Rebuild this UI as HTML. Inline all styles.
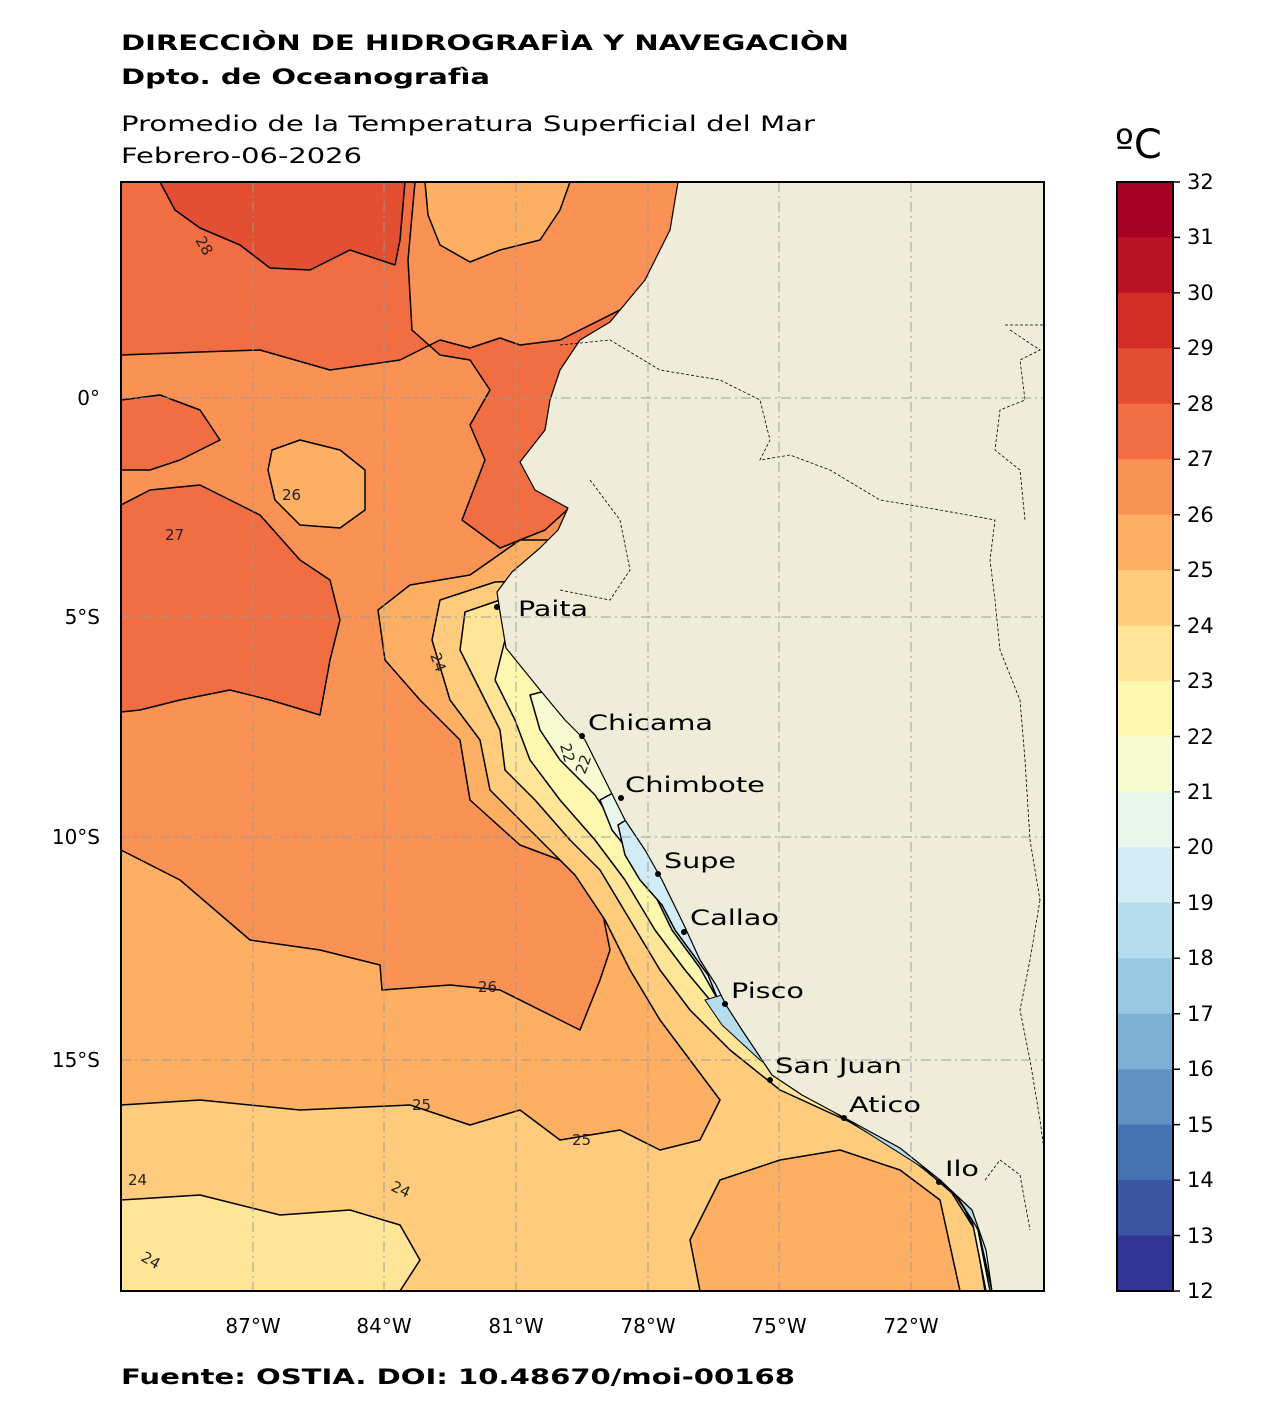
<!DOCTYPE html>
<html><head><meta charset="utf-8"><style>
body{margin:0;background:#fff;}
svg{display:block;font-family:"DejaVu Sans","Liberation Sans",sans-serif;}
</style></head><body>
<svg width="1268" height="1420" viewBox="0 0 1268 1420" xmlns="http://www.w3.org/2000/svg">
<rect width="1268" height="1420" fill="#fff"/>
<text x="121" y="50" font-size="21" font-weight="bold" textLength="728" lengthAdjust="spacingAndGlyphs">DIRECCIÒN DE HIDROGRAFÌA Y NAVEGACIÒN</text>
<text x="121" y="84" font-size="21" font-weight="bold" textLength="369" lengthAdjust="spacingAndGlyphs">Dpto. de Oceanografìa</text>
<text x="121" y="131" font-size="21" textLength="694" lengthAdjust="spacingAndGlyphs">Promedio de la Temperatura Superficial del Mar</text>
<text x="121" y="163" font-size="21" textLength="241" lengthAdjust="spacingAndGlyphs">Febrero-06-2026</text>
<text x="1115" y="158" font-size="40">ºC</text>
<text x="121" y="1384" font-size="21" font-weight="bold" textLength="674" lengthAdjust="spacingAndGlyphs">Fuente: OSTIA. DOI: 10.48670/moi-00168</text>

<defs><clipPath id="m"><rect x="121" y="182" width="923" height="1109"/></clipPath></defs>
<g clip-path="url(#m)" stroke="#000" stroke-width="1.5" stroke-linejoin="round">
<rect x="121" y="182" width="923" height="1109" fill="#f99254" stroke="none"/>
<path fill="#f16e43" d="M121,182 L415,182 L408,260 L412,330 L440,355 L470,360 L490,390 L470,425 L485,460 L462,520 L500,548 L545,530 L600,480 L640,300 L560,340 L520,345 L500,338 L470,348 L440,340 L400,360 L330,370 L260,350 L200,352 L121,355 Z"/>
<path fill="#f16e43" d="M121,505 L150,490 L200,485 L230,500 L260,515 L300,560 L330,580 L340,620 L330,660 L320,715 L270,700 L230,690 L180,700 L140,710 L121,712 Z"/>
<path fill="#f16e43" d="M121,400 L160,395 L200,410 L220,440 L180,460 L150,470 L121,470 Z"/>
<path fill="#e34f33" d="M160,182 L405,182 L400,240 L395,265 L350,250 L310,270 L270,268 L240,245 L200,228 L175,210 Z"/>
<path fill="#fdb063" d="M425,182 L570,182 L560,210 L540,240 L500,250 L470,262 L440,245 L428,215 Z"/>
<path fill="#fdb063" d="M272,450 L300,440 L340,450 L365,470 L365,510 L340,528 L300,525 L275,500 L268,470 Z"/>
<path fill="#fdb063" d="M121,850 L180,880 L250,940 L320,950 L380,965 L382,990 L450,985 L500,990 L560,1020 L580,1030 L600,980 L610,950 L600,900 L560,860 L520,845 L470,800 L460,740 L420,700 L385,660 L378,610 L410,585 L470,575 L520,540 L1044,540 L1044,1291 L121,1291 Z"/>
<path fill="#fecc7c" d="M121,1105 L200,1100 L300,1110 L410,1105 L470,1125 L520,1110 L560,1140 L620,1130 L660,1150 L700,1140 L720,1100 L690,1060 L660,1020 L630,970 L605,920 L575,875 L530,830 L490,790 L480,740 L450,700 L432,640 L440,600 L495,582 L1044,560 L1044,1291 L121,1291 Z"/>
<path fill="#fee597" d="M121,1200 L200,1195 L280,1215 L350,1210 L400,1225 L420,1260 L400,1291 L121,1291 Z"/>
<path fill="#fdb063" d="M720,1180 L780,1160 L840,1150 L900,1170 L940,1200 L960,1291 L700,1291 L690,1240 Z"/>
<path fill="#fee597" d="M500,600 L465,612 L460,650 L480,690 L500,730 L505,770 L535,800 L570,840 L600,870 L630,920 L660,970 L690,1010 L730,1050 L780,1090 L850,1122 L900,1150 L950,1190 L975,1230 L985,1291 L1044,1291 L1044,560 Z"/>
<path fill="#fef7b0" d="M505,640 L495,680 L515,720 L530,760 L560,800 L595,840 L625,880 L655,930 L685,970 L710,1000 L740,1040 L790,1085 L860,1125 L920,1165 L960,1200 L980,1240 L990,1291 L1044,1291 L1044,560 Z"/>
<path fill="#f6fbd2" d="M530,695 L540,730 L560,760 L595,795 L618,830 L645,870 L668,915 L695,955 L712,985 L740,1025 L780,1065 L830,1100 L890,1140 L945,1180 L972,1220 L986,1291 L1044,1291 L1044,560 Z"/>
<path fill="#e8f6ec" d="M600,800 L612,830 L636,860 L655,895 L672,930 L700,968 L718,1000 L748,1040 L790,1080 L850,1115 L910,1150 L955,1185 L978,1230 L990,1291 L1044,1291 L1044,560 Z"/>
<path fill="#d1ecf4" d="M618,825 L625,855 L640,880 L662,905 L675,930 L708,975 L720,1005 L750,1045 L800,1090 L850,1122 L930,1170 L975,1215 L992,1291 L1044,1291 L1044,560 Z"/>
<path fill="#b5dded" d="M705,1000 L722,1025 L760,1060 L810,1095 L860,1128 L950,1185 L985,1240 L994,1291 L1044,1291 L1044,900 Z" stroke-width="1"/>
<path fill="#efedd9" stroke="#000" stroke-width="1.2" d="M678,182 L670,230 L645,280 L610,322 L580,340 L560,370 L550,400 L545,430 L520,462 L535,490 L568,508 L558,530 L540,548 L512,572 L497,592 L500,612 L506,648 L540,690 L565,720 L585,740 L610,790 L625,820 L645,850 L662,880 L684,925 L700,960 L716,985 L726,1005 L742,1030 L772,1075 L802,1095 L845,1118 L900,1148 L940,1180 L972,1210 L986,1250 L992,1291 L1044,1291 L1044,182 Z"/>
</g>
<g fill="none" stroke="#000" stroke-width="0.8" stroke-dasharray="3,2">
<path d="M560,345 L610,340 L660,370 L720,380 L760,400 L770,440 L760,460 L790,455 L830,470 L880,500 L940,510 L995,520 L990,560 L995,600 L1000,650 L1020,700 L1025,760 L1030,840 L1040,900"/>
<path d="M1005,325 L1044,325 M1010,330 L1040,350 L1020,360 L1025,400 L1000,410 L995,450 L1020,470 L1025,520"/>
<path d="M590,480 L620,520 L630,570 L610,600 L560,590"/>
<path d="M1040,900 L1030,960 L1020,1010 L1030,1060 L1040,1120 L1044,1150"/>
<path d="M985,1180 L1000,1160 L1020,1175 L1030,1230"/>
</g>
<g stroke="#999" stroke-width="1.2" stroke-dasharray="10,4,2,4" opacity="0.75">
<path d="M253,182V1291M384,182V1291M516,182V1291M648,182V1291M779,182V1291M911,182V1291M121,398H1044M121,617H1044M121,837H1044M121,1060H1044"/>
</g>
<rect x="121" y="182" width="923" height="1109" fill="none" stroke="#000" stroke-width="2"/>
<g font-size="15" fill="#222">
<text x="195" y="240" transform="rotate(60 195 240)">28</text>
<text x="282" y="500">26</text>
<text x="165" y="540">27</text>
<text x="430" y="655" transform="rotate(70 430 655)">24</text>
<text x="478" y="992">26</text>
<text x="412" y="1110">25</text>
<text x="572" y="1145">25</text>
<text x="390" y="1190" transform="rotate(25 390 1190)">24</text>
<text x="128" y="1185">24</text>
<text x="140" y="1260" transform="rotate(30 140 1260)">24</text>
<text x="560" y="745" transform="rotate(75 560 745)">22</text>
<text x="585" y="775" transform="rotate(-70 585 775)">22</text>
</g>
<g font-size="21" fill="#000">
<circle cx="497" cy="607" r="3"/><text x="518" y="616" textLength="70" lengthAdjust="spacingAndGlyphs">Paita</text>
<circle cx="582" cy="736" r="3"/><text x="588" y="730" textLength="125" lengthAdjust="spacingAndGlyphs">Chicama</text>
<circle cx="621" cy="798" r="3"/><text x="625" y="792" textLength="140" lengthAdjust="spacingAndGlyphs">Chimbote</text>
<circle cx="658" cy="874" r="3"/><text x="664" y="868" textLength="72" lengthAdjust="spacingAndGlyphs">Supe</text>
<circle cx="684" cy="932" r="3"/><text x="690" y="925" textLength="89" lengthAdjust="spacingAndGlyphs">Callao</text>
<circle cx="725" cy="1004" r="3"/><text x="731" y="998" textLength="73" lengthAdjust="spacingAndGlyphs">Pisco</text>
<circle cx="770" cy="1080" r="3"/><text x="775" y="1073" textLength="127" lengthAdjust="spacingAndGlyphs">San Juan</text>
<circle cx="844" cy="1118" r="3"/><text x="849" y="1112" textLength="72" lengthAdjust="spacingAndGlyphs">Atico</text>
<circle cx="939" cy="1182" r="3"/><text x="945" y="1176" textLength="34" lengthAdjust="spacingAndGlyphs">Ilo</text>
</g>
<g font-size="20" fill="#000" text-anchor="end">
<text x="100" y="405">0°</text><text x="100" y="624">5°S</text><text x="100" y="844">10°S</text><text x="100" y="1067">15°S</text>
</g>
<g font-size="20" fill="#000" text-anchor="middle">
<text x="253" y="1333">87°W</text><text x="384" y="1333">84°W</text><text x="516" y="1333">81°W</text><text x="648" y="1333">78°W</text><text x="779" y="1333">75°W</text><text x="911" y="1333">72°W</text>
</g>
<g>
<rect x="1117" y="182.0" width="56" height="56" fill="#a50026"/>
<rect x="1117" y="237.4" width="56" height="56" fill="#b91326"/>
<rect x="1117" y="292.9" width="56" height="56" fill="#d22e27"/>
<rect x="1117" y="348.3" width="56" height="56" fill="#e34f33"/>
<rect x="1117" y="403.8" width="56" height="56" fill="#f16e43"/>
<rect x="1117" y="459.2" width="56" height="56" fill="#f99254"/>
<rect x="1117" y="514.7" width="56" height="56" fill="#fdb063"/>
<rect x="1117" y="570.1" width="56" height="56" fill="#fecc7c"/>
<rect x="1117" y="625.6" width="56" height="56" fill="#fee597"/>
<rect x="1117" y="681.0" width="56" height="56" fill="#fef7b0"/>
<rect x="1117" y="736.5" width="56" height="56" fill="#f6fbd2"/>
<rect x="1117" y="791.9" width="56" height="56" fill="#e8f6ec"/>
<rect x="1117" y="847.4" width="56" height="56" fill="#d1ecf4"/>
<rect x="1117" y="902.8" width="56" height="56" fill="#b5dded"/>
<rect x="1117" y="958.3" width="56" height="56" fill="#99c9e1"/>
<rect x="1117" y="1013.7" width="56" height="56" fill="#7bb0d4"/>
<rect x="1117" y="1069.2" width="56" height="56" fill="#6092c2"/>
<rect x="1117" y="1124.6" width="56" height="56" fill="#4472b3"/>
<rect x="1117" y="1180.1" width="56" height="56" fill="#3b54a4"/>
<rect x="1117" y="1235.5" width="55.5" height="55.5" fill="#313695"/>
<rect x="1117" y="182" width="56" height="1109" fill="none" stroke="#000" stroke-width="2"/>
</g>
<g stroke="#000" stroke-width="1.5">
<path d="M1173,182h7M1173,237.4h7M1173,292.9h7M1173,348.3h7M1173,403.8h7M1173,459.2h7M1173,514.7h7M1173,570.1h7M1173,625.6h7M1173,681h7M1173,736.5h7M1173,791.9h7M1173,847.4h7M1173,902.8h7M1173,958.3h7M1173,1013.7h7M1173,1069.2h7M1173,1124.6h7M1173,1180.1h7M1173,1235.5h7M1173,1291h7"/>
</g>
<g font-size="21" fill="#000">
<text x="1187" y="189">32</text><text x="1187" y="244">31</text><text x="1187" y="300">30</text><text x="1187" y="355">29</text><text x="1187" y="411">28</text><text x="1187" y="466">27</text><text x="1187" y="522">26</text><text x="1187" y="577">25</text><text x="1187" y="633">24</text><text x="1187" y="688">23</text><text x="1187" y="744">22</text><text x="1187" y="799">21</text><text x="1187" y="854">20</text><text x="1187" y="910">19</text><text x="1187" y="965">18</text><text x="1187" y="1021">17</text><text x="1187" y="1076">16</text><text x="1187" y="1132">15</text><text x="1187" y="1187">14</text><text x="1187" y="1243">13</text><text x="1187" y="1298">12</text>
</g>
</svg>
</body></html>
